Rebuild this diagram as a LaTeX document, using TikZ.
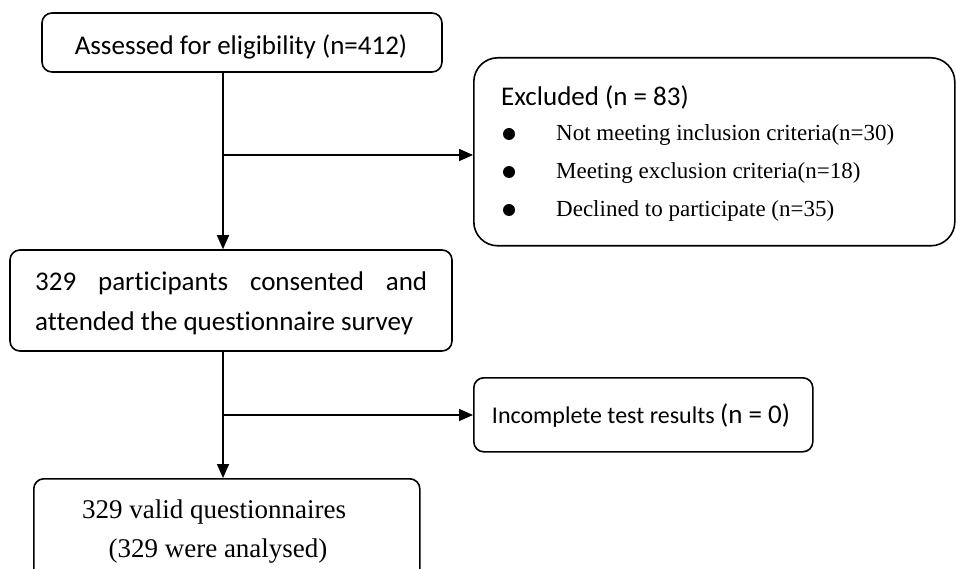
\documentclass[tikz,border=0pt]{standalone}
\usepackage{fontspec}
\setmainfont{Liberation Serif}
\newfontfamily\calfont[Ligatures=NoCommon]{Carlito}
\usetikzlibrary{arrows.meta,calc}
\begin{document}
\begin{tikzpicture}[x=1pt,y=-1pt,
  box/.style={draw,line width=1.6pt,rounded corners=10pt,inner sep=0pt},
  conn/.style={line width=1.6pt},
  arr/.style={conn,-{Triangle[length=14pt,width=12pt]}},
  txt/.style={font=\calfont\fontsize{27}{40}\selectfont,inner sep=0pt},
  ser/.style={font=\fontsize{23}{28}\selectfont,inner sep=0pt}]
\clip (0,0) rectangle (956,569);
\fill[white] (0,0) rectangle (956,569);
% boxes
\node[box,minimum width=400pt,minimum height=59pt] (b1) at (242,42.5) {};
\node[txt,anchor=base] (b1t) at (241,55) {Assessed for eligibility (n=412)};
\node[box,rounded corners=24pt,minimum width=481pt,minimum height=188pt,anchor=north west] (ex) at (473,57) {};
\node[txt,anchor=base west] (exh) at (501,106) {Excluded (n = 83)};
\node[ser,anchor=base west] (i1) at (556,141) {Not meeting inclusion criteria(n=30)};
\node[ser,anchor=base west] (i2) at (556,179) {Meeting exclusion criteria(n=18)};
\node[ser,anchor=base west] (i3) at (556,217) {Declined to participate (n=35)};
\fill (i1.base west) ++(-47,-7) circle (6pt);
\fill (i2.base west) ++(-47,-7) circle (6pt);
\fill (i3.base west) ++(-47,-7) circle (6pt);
\node[box,minimum width=442pt,minimum height=101pt] (b2) at (231,300.5) {};
\node[txt,text width=392pt,align=justify,anchor=north west] (b2t) at (35,272) {\hyphenpenalty=10000 329 participants consented and\linebreak attended the questionnaire survey};
\node[box,minimum width=339pt,minimum height=74pt,anchor=north west] (inc) at (473,377) {};
\node[txt,anchor=base] (inct) at (641,423) {\fontsize{24}{28}\selectfont Incomplete test results \fontsize{27}{30}\selectfont(n = 0)};
\node[box,minimum width=386pt,minimum height=110pt,anchor=north west] (b3) at (33,478) {};
\node[ser,font=\fontsize{27}{32}\selectfont,anchor=base] (b3a) at (214,518) {329 valid questionnaires};
\node[ser,font=\fontsize{27}{32}\selectfont,anchor=base] (b3b) at (218,557) {(329 were analysed)};
% connectors
\draw[arr] (b1.south -| 223,0) -- (b2.north -| 223,0);
\draw[arr] (223,155) coordinate (j1) -- (j1 -| ex.west);
\draw[arr] (b2.south -| 223,0) -- (b3.north -| 223,0);
\draw[arr] (223,415) coordinate (j2) -- (j2 -| inc.west);
\end{tikzpicture}
\end{document}
